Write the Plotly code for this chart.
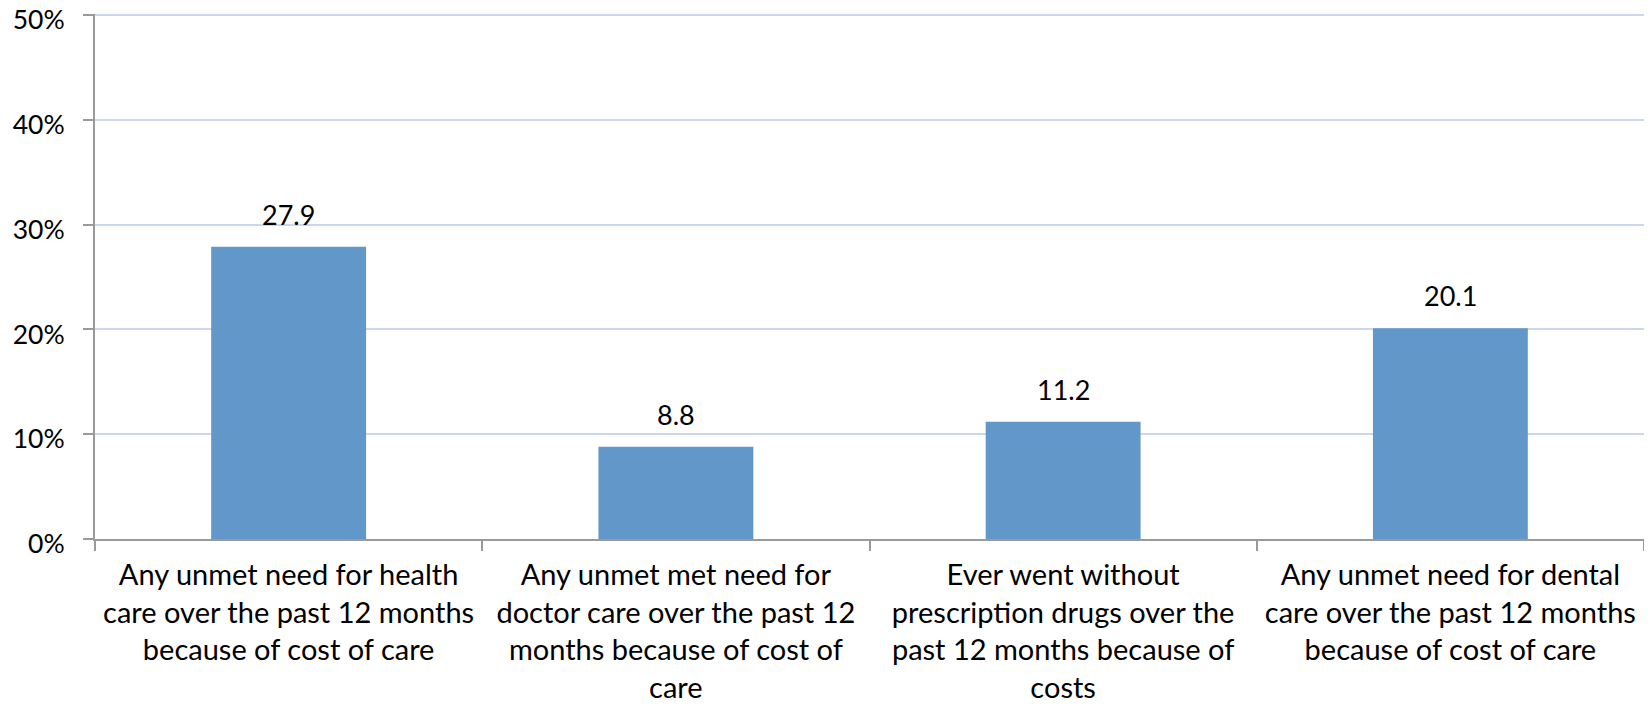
import plotly.graph_objects as go

categories = [
    "Any unmet need for health<br>care over the past 12 months<br>because of cost of care",
    "Any unmet met need for<br>doctor care over the past 12<br>months because of cost of<br>care",
    "Ever went without<br>prescription drugs over the<br>past 12 months because of<br>costs",
    "Any unmet need for dental<br>care over the past 12 months<br>because of cost of care",
]
values = [27.9, 8.8, 11.2, 20.1]
value_labels = ["27.9", "8.8", "11.2", "20.1"]
y_ticks = [0, 10, 20, 30, 40, 50]
y_tick_labels = ["0%", "10%", "20%", "30%", "40%", "50%"]

FONT = "Lato"

fig = go.Figure(
    go.Bar(
        x=categories,
        y=values,
        marker=dict(color="#6197C9", line=dict(width=0)),
        hoverinfo="skip",
    )
)

for cat, val, lab in zip(categories, values, value_labels):
    fig.add_annotation(
        x=cat, y=val, text=lab, showarrow=False,
        yanchor="bottom", yshift=14,
        font=dict(family=FONT, size=27, color="#000000"),
    )

# page body has an 8px margin, so the figure is sized to fit the 1652x710 window
fig.update_layout(
    width=1644,
    height=702,
    margin=dict(l=87, r=8, t=6, b=171, autoexpand=False),
    paper_bgcolor="white",
    plot_bgcolor="white",
    bargap=0.6,
    showlegend=False,
    font=dict(family=FONT, size=27, color="#000000"),
)

fig.update_xaxes(
    automargin=False,
    showline=True,
    linecolor="#9A9A9A",
    linewidth=2,
    ticks="outside",
    tickson="boundaries",
    ticklen=10,
    tickwidth=2,
    tickcolor="#9A9A9A",
    showgrid=False,
    tickangle=0,
    tickfont=dict(family=FONT, size=29, color="#000000"),
    ticklabelstandoff=9,
)

fig.update_yaxes(
    automargin=False,
    range=[0, 50.1],
    tickvals=y_ticks,
    ticktext=y_tick_labels,
    showline=True,
    linecolor="#9A9A9A",
    linewidth=2,
    ticks="outside",
    ticklen=10,
    tickwidth=2,
    tickcolor="#9A9A9A",
    showgrid=True,
    gridcolor="#C9D8EC",
    gridwidth=2,
    zeroline=False,
    tickfont=dict(family=FONT, size=26.5, color="#000000"),
    ticklabelstandoff=13,
    ticklabeloverflow="allow",
    ticklabelshift=5,
)

fig.write_html("out.html")
